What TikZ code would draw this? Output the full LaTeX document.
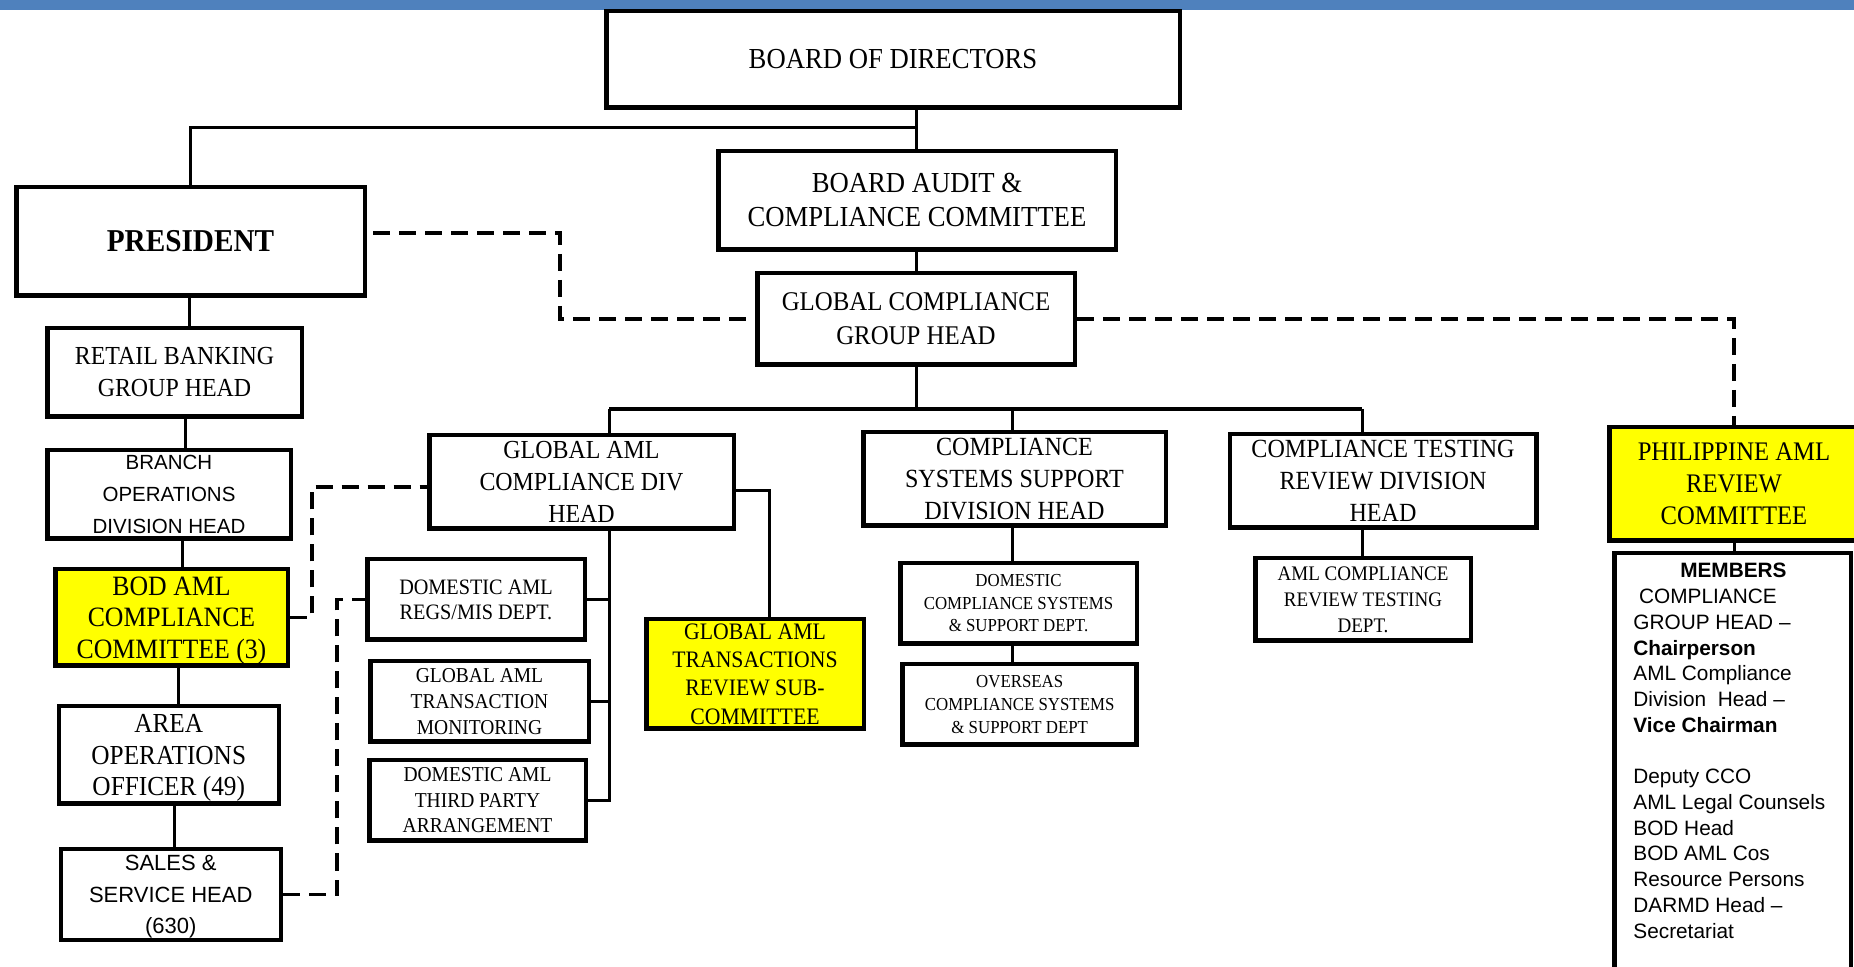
\documentclass[tikz,border=0pt]{standalone}
\usepackage{fontspec}
\setmainfont{Liberation Serif}
\newfontfamily\serifc[FakeStretch=0.92]{Liberation Serif}
\newfontfamily\arial{Liberation Sans}
\newcommand\fsz[2]{\fontsize{#1}{#2}\selectfont}
\newcommand\nodepth[1]{\raisebox{0pt}[\height][0pt]{#1}}
\definecolor{bandblue}{HTML}{4F81BD}
\definecolor{hiyellow}{HTML}{FFFF00}
\tikzset{
  box/.style={draw, line width=2.25pt, inner sep=0pt, align=center, fill=white},
  ybox/.style={box, fill=hiyellow},
  conn/.style={line width=1.5pt},
  busline/.style={line width=1.9pt},
  dashconn/.style={line width=1.75pt, dash pattern=on 8.5pt off 4.5pt},
}
\begin{document}
\begin{tikzpicture}[x=0.5pt,y=-0.5pt]
\useasboundingbox (0,0) rectangle (1854,967);
\clip (0,0) rectangle (1854,967);
\fill[bandblue] (0,0) rectangle (1854,10);

% nodes
\node[box, minimum width=286.75pt, minimum height=48.25pt, font=\serifc\fsz{14.5}{17}] (bod) at (893,59.5) {BOARD OF DIRECTORS};
\node[box, minimum width=198.75pt, minimum height=49.25pt, font=\serifc\fsz{14.5}{17}] (ba) at (917,200.5) {BOARD AUDIT \&\\COMPLIANCE COMMITTEE};
\node[box, minimum width=158.75pt, minimum height=45.75pt, font=\serifc\fsz{13.5}{17}] (gc) at (916,319) {GLOBAL COMPLIANCE\\GROUP HEAD};
\node[box, minimum width=174.25pt, minimum height=54.25pt, font=\serifc\bfseries\fsz{15.9}{18}] (pres) at (190.5,241.5) {PRESIDENT};
\node[box, minimum width=127.25pt, minimum height=44.25pt, font=\serifc\fsz{13}{16}] (rb) at (174.5,372.5) {RETAIL BANKING\\GROUP HEAD};
\node[box, minimum width=121.75pt, minimum height=44.25pt, font=\arial\fsz{10.25}{16}] (branch) at (169,494.5) {BRANCH\\OPERATIONS\\DIVISION HEAD};
\node[ybox, minimum width=116.25pt, minimum height=48.25pt, font=\serifc\fsz{14}{15.85}] (bodaml) at (171.5,617.5) {BOD AML\\COMPLIANCE\\\nodepth{COMMITTEE (3)}};
\node[box, minimum width=110pt, minimum height=48.75pt, font=\serifc\fsz{13.75}{15.85}] (area) at (168.75,755) {AREA\\OPERATIONS\\\nodepth{OFFICER (49)}};
\node[box, minimum width=110pt, minimum height=45.25pt, font=\arial\fsz{11}{15.85}] (sales) at (170.75,894.5) {SALES \&\\SERVICE HEAD\\\nodepth{(630)}};
\node[box, minimum width=152.25pt, minimum height=46.75pt, font=\serifc\fsz{13}{15.85}] (gaml) at (581.5,482) {GLOBAL AML\\COMPLIANCE DIV\\HEAD};
\node[box, minimum width=108.75pt, minimum height=40.25pt, font=\serifc\fsz{11}{12.25}] (regs) at (476,599.5) {DOMESTIC AML\\\nodepth{REGS/MIS DEPT.}};
\node[box, minimum width=109.25pt, minimum height=40.25pt, font=\serifc\fsz{10.6}{13}] (gatm) at (479.5,701.5) {GLOBAL AML\\TRANSACTION\\MONITORING};
\node[box, minimum width=108.25pt, minimum height=40.25pt, font=\serifc\fsz{10.6}{12.75}] (dtpa) at (477.5,800.5) {DOMESTIC AML\\THIRD PARTY\\ARRANGEMENT};
\node[ybox, minimum width=108.75pt, minimum height=54.75pt, font=\serifc\fsz{11.8}{14.15}] (gatr) at (755,674) {GLOBAL AML\\TRANSACTIONS\\REVIEW SUB-\\COMMITTEE};
\node[box, minimum width=151.25pt, minimum height=46.75pt, font=\serifc\fsz{13.1}{15.85}] (css) at (1014.5,479) {COMPLIANCE\\SYSTEMS SUPPORT\\DIVISION HEAD};
\node[box, minimum width=118.25pt, minimum height=40.25pt, font=\serifc\fsz{9.15}{11.25}] (dcss) at (1018.5,603.5) {DOMESTIC\\COMPLIANCE SYSTEMS\\\& SUPPORT DEPT.};
\node[box, minimum width=117pt, minimum height=40.25pt, font=\serifc\fsz{9.15}{11.4}] (ocss) at (1019.7,704.5) {OVERSEAS\\COMPLIANCE SYSTEMS\\\& SUPPORT DEPT};
\node[box, minimum width=153.25pt, minimum height=46.75pt, font=\serifc\fsz{13.1}{15.85}] (ctr) at (1383,481) {COMPLIANCE TESTING\\REVIEW DIVISION\\HEAD};
\node[box, minimum width=107.75pt, minimum height=41.25pt, font=\serifc\fsz{10.35}{13}] (amlcrt) at (1363,599.5) {AML COMPLIANCE\\REVIEW TESTING\\DEPT.};
\node[ybox, minimum width=124.75pt, minimum height=56.75pt, font=\serifc\fsz{13.4}{16}] (paml) at (1734,484) {PHILIPPINE AML\\REVIEW\\COMMITTEE};
\node[box, anchor=north, minimum width=118.25pt, minimum height=250pt] (mem) at (1732.5,551) {};
\node[anchor=north west, inner sep=0pt, align=left, font=\arial\fsz{10.4}{12.86}] (memtext) at (1633,563)
  {\makebox[100pt][c]{\bfseries MEMBERS}\\
   \ COMPLIANCE\\
   GROUP HEAD –\\
   \textbf{Chairperson}\\
   AML Compliance\\
   Division\ \ Head –\\
   \textbf{Vice Chairman}\\[12.86pt]
   Deputy CCO\\
   AML Legal Counsels\\
   BOD Head\\
   BOD AML Cos\\
   Resource Persons\\
   DARMD Head –\\
   Secretariat};

% coordinates
\coordinate (j1) at (916,128);
\coordinate (bus) at (609,409);
\coordinate (busR) at (1362,409);
\coordinate (gx) at (769,491);
\coordinate (cx) at (1012,0);
\coordinate (dpx) at (560,233);
\coordinate (dbx) at (312,487);
\coordinate (dsx) at (337,893);
\coordinate (c1) at (189,0);
\coordinate (c2) at (185,0);
\coordinate (c3) at (182,0);
\coordinate (c4) at (178,0);
\coordinate (c5) at (174,0);

% solid connectors
\draw[conn] (j1 |- bod.south) -- (j1 |- ba.north);
\draw[conn] (pres.north) |- (j1);
\draw[conn] (j1 |- ba.south) -- (j1 |- gc.north);
\draw[conn] (j1 |- gc.south) -- (j1 |- bus);
\draw[busline] (bus) -- (busR);
\draw[conn] (bus) -- (bus |- gaml.north);
\draw[conn] (cx |- bus) -- (cx |- css.north);
\draw[conn] (busR) -- (busR |- ctr.north);
\draw[conn] (gaml.east |- gx) -| (gx |- gatr.north);
\draw[conn] (bus |- gaml.south) -- (bus |- dtpa.east) -- (dtpa.east);
\draw[conn] (regs.east) -- (regs.east -| bus);
\draw[conn] (gatm.east) -- (gatm.east -| bus);
\draw[conn] (cx |- css.south) -- (cx |- dcss.north);
\draw[conn] (cx |- dcss.south) -- (cx |- ocss.north);
\draw[conn] (busR |- amlcrt.north) -- (busR |- ctr.south);
\draw[conn] (paml.south) -- (paml.south |- mem.north);
\draw[conn] (c1 |- pres.south) -- (c1 |- rb.north);
\draw[conn] (c2 |- rb.south) -- (c2 |- branch.north);
\draw[conn] (c3 |- branch.south) -- (c3 |- bodaml.north);
\draw[conn] (c4 |- bodaml.south) -- (c4 |- area.north);
\draw[conn] (c5 |- area.south) -- (c5 |- sales.north);

% dashed connectors
\draw[dashconn, dash phase=10pt] (pres.east |- dpx) -- (dpx) |- (gc.west);
\draw[dashconn] (gc.east) -| (paml.north);
\draw[dashconn] (bodaml.east) -| (dbx) -- (dbx -| gaml.west);
\draw[dashconn] (sales.east) -| (dsx |- regs.west) -- (regs.west);
\end{tikzpicture}
\end{document}
